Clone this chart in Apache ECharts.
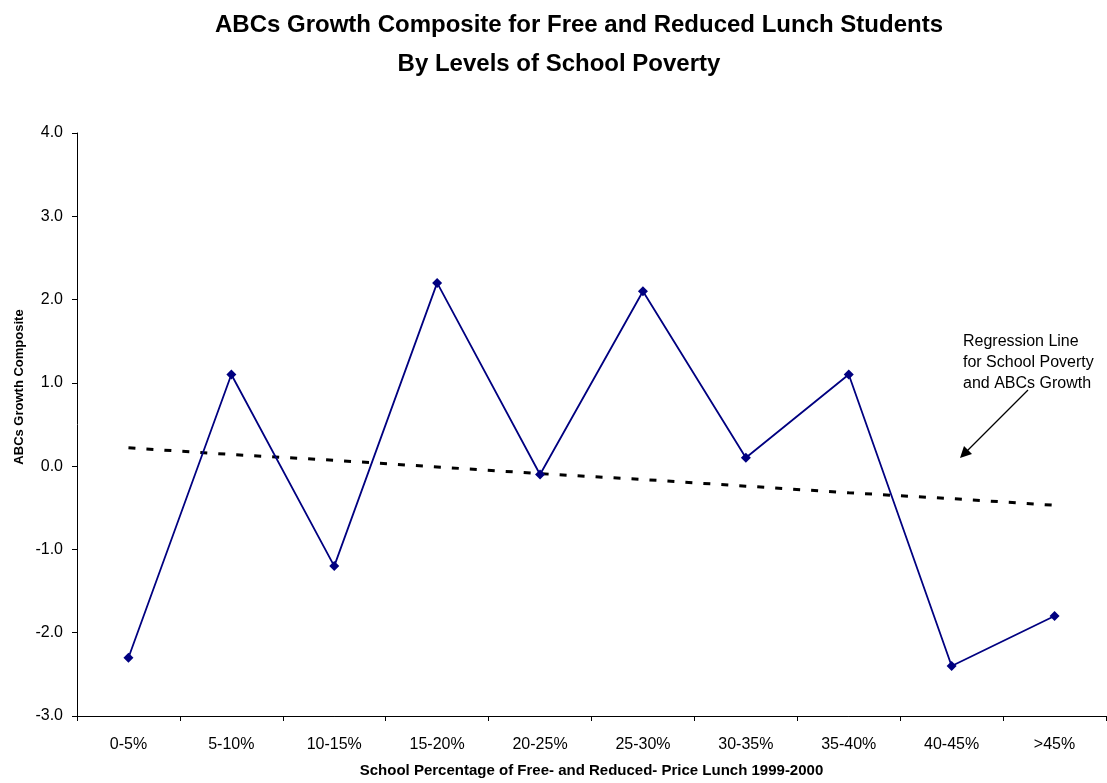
<!DOCTYPE html>
<html>
<head>
<meta charset="utf-8">
<script src="https://cdn.jsdelivr.net/npm/echarts@6/dist/echarts.min.js"></script>
<style>
html, body { margin: 0; padding: 0; background: #fff; }
#chart { width: 1107px; height: 783px; }
</style>
</head>
<body>
<div id="chart"></div>
<script>
// categories and values
var categories = ['0-5%', '5-10%', '10-15%', '15-20%', '20-25%', '25-30%', '30-35%', '35-40%', '40-45%', '>45%'];
var growth = [-2.3, 1.1, -1.2, 2.2, -0.1, 2.1, 0.1, 1.1, -2.4, -1.8];
var regression = [0.22, 0.14, 0.07, -0.01, -0.09, -0.16, -0.24, -0.32, -0.39, -0.47];
var noteLines = ['Regression Line', 'for School Poverty', 'and ABCs Growth'];

var font = 'Liberation Sans, Arial, sans-serif';

var option = {
	backgroundColor: '#fff',
	animation: false,
	title: [{
		text: 'ABCs Growth Composite for Free and Reduced Lunch Students',
		left: 574, top: 8, textAlign: 'center',
		textStyle: { fontFamily: font, fontSize: 24, fontWeight: 'bold', color: '#000' }
	}, {
		text: 'By Levels of School Poverty',
		left: 554, top: 47, textAlign: 'center',
		textStyle: { fontFamily: font, fontSize: 24, fontWeight: 'bold', color: '#000' }
	}],
	grid: {
		left: 77,
		right: 1,
		top: 133,
		bottom: 64
	},
	xAxis: {
		type: 'category',
		data: categories,
		boundaryGap: true,
		name: 'School Percentage of Free- and Reduced- Price Lunch 1999-2000',
		nameLocation: 'middle',
		nameGap: 47,
		nameTextStyle: { fontFamily: font, fontSize: 15, fontWeight: 'bold', color: '#000' },
		axisLine: { onZero: false, lineStyle: { color: '#000', width: 1 } },
		axisTick: { show: true, alignWithLabel: false, length: 5, lineStyle: { color: '#000' } },
		axisLabel: { fontFamily: font, fontSize: 16, color: '#000', margin: 21, interval: 0 },
		splitLine: { show: false }
	},
	yAxis: {
		type: 'value',
		min: -3,
		max: 4,
		interval: 1,
		axisLine: { show: true, lineStyle: { color: '#000', width: 1 } },
		axisTick: { show: true, length: 5, lineStyle: { color: '#000' } },
		axisLabel: {
			fontFamily: font, fontSize: 16, color: '#000', margin: 14,
			formatter: function (v) { return v.toFixed(1); }
		},
		splitLine: { show: false }
	},
	series: [{
		name: 'Regression',
		type: 'line',
		data: regression,
		symbol: 'none',
		lineStyle: { color: '#000', width: 3, type: [7, 11] },
		z: 1
	}, {
		name: 'ABCs Growth',
		type: 'line',
		data: growth,
		symbol: 'diamond',
		symbolSize: 10,
		itemStyle: { color: '#000080' },
		lineStyle: { color: '#000080', width: 1.8 },
		z: 2
	}],
	graphic: [{
		// y axis title, sits above the axis middle in the reference
		type: 'text',
		x: 19,
		y: 387,
		rotation: Math.PI / 2,
		style: {
			text: 'ABCs Growth Composite',
			font: 'bold 13px ' + font,
			fill: '#000',
			align: 'center',
			verticalAlign: 'middle'
		}
	}, {
		type: 'text',
		left: 963,
		top: 331,
		style: {
			text: noteLines.join('\n'),
			font: '16px ' + font,
			lineHeight: 21,
			fill: '#000'
		}
	}, {
		type: 'line',
		shape: { x1: 1028, y1: 390, x2: 966, y2: 452 },
		style: { stroke: '#000', lineWidth: 1.2 }
	}, {
		type: 'polygon',
		shape: { points: [[960, 458], [964, 446], [972, 454]] },
		style: { fill: '#000' }
	}]
};

var myChart = echarts.init(document.getElementById('chart'));
myChart.setOption(option);
</script>
</body>
</html>
